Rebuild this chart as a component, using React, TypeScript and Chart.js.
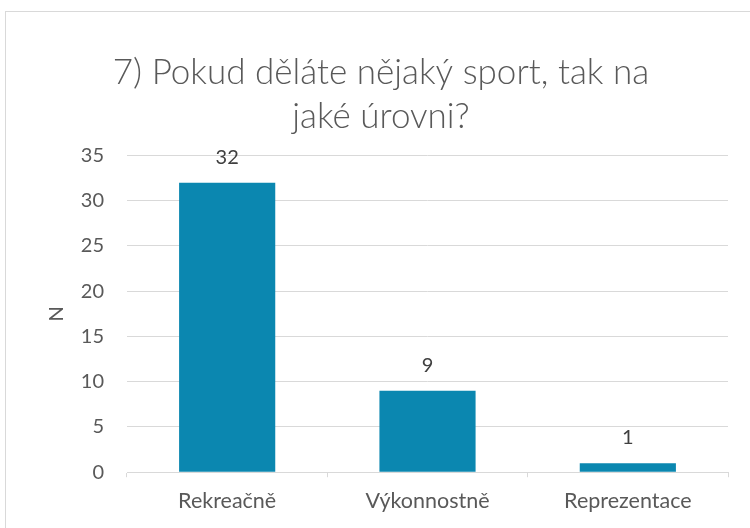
import React, { useEffect, useRef } from "react";
import { Chart, registerables } from "chart.js";

Chart.register(...registerables);

const titleLines = ["7) Pokud děláte nějaký sport, tak na", "jaké úrovni?"];
const categories = ["Rekreačně", "Výkonnostně", "Reprezentace"];
const counts = [32, 9, 1];
const yAxisTitle = "N";
const yMin = 0;
const yMax = 35;
const yStep = 5;

const FONT = "Lato, 'Open Sans', sans-serif";
const TEXT = "#595959";
const GRID = "#d9d9d9";
const BAR = "#0B87B0";

const framePlugin = {
  id: "frame",
  beforeDraw(chart: any) {
    const ctx = chart.ctx;
    ctx.save();
    ctx.fillStyle = "#ffffff";
    ctx.fillRect(0, 0, chart.width, chart.height);
    ctx.strokeStyle = GRID;
    ctx.lineWidth = 1;
    ctx.strokeRect(5.5, 11.5, chart.width + 20, chart.height + 20);
    ctx.restore();
  },
};

const labelPlugin = {
  id: "valueLabels",
  afterDatasetsDraw(chart: any) {
    const ctx = chart.ctx;
    const meta = chart.getDatasetMeta(0);
    const data = chart.data.datasets[0].data;
    ctx.save();
    ctx.font = `20px ${FONT}`;
    ctx.fillStyle = "#404040";
    ctx.textAlign = "center";
    ctx.textBaseline = "alphabetic";
    meta.data.forEach((el: any, i: number) => {
      ctx.fillText(String(data[i]), el.x, el.y - 19);
    });
    ctx.restore();
  },
};

export default function App() {
  const ref = useRef<HTMLCanvasElement | null>(null);

  useEffect(() => {
    document.body.style.margin = "0";
    if (!ref.current) return;
    const chart = new Chart(ref.current, {
      type: "bar",
      data: {
        labels: categories,
        datasets: [
          {
            data: counts,
            backgroundColor: BAR,
            borderWidth: 0,
            barPercentage: 0.48,
            categoryPercentage: 1,
          },
        ],
      },
      options: {
        responsive: false,
        animation: false,
        devicePixelRatio: 1,
        layout: { padding: { left: 34, right: 22, top: 0, bottom: 3 } },
        plugins: {
          legend: { display: false },
          tooltip: { enabled: false },
          title: {
            display: true,
            text: titleLines,
            color: TEXT,
            font: { family: FONT, size: 35, weight: "300", lineHeight: 1.25 },
            padding: { top: 51, bottom: 17 },
          },
        },
        scales: {
          x: {
            grid: {
              display: true,
              drawOnChartArea: false,
              drawTicks: true,
              tickLength: 5,
              color: GRID,
              offset: true,
            },
            border: { display: true, color: GRID },
            ticks: {
              color: TEXT,
              font: { family: FONT, size: 21.5 },
              padding: 11,
            },
          },
          y: {
            min: yMin,
            max: yMax,
            ticks: {
              stepSize: yStep,
              color: TEXT,
              font: { family: FONT, size: 20 },
              padding: 23,
            },
            grid: { color: GRID, drawTicks: false },
            border: { display: false },
            title: {
              display: true,
              text: yAxisTitle,
              color: TEXT,
              font: { family: FONT, size: 20 },
              padding: { top: 11, bottom: 0 },
            },
            afterFit(scale: any) {
              scale.width = 93;
            },
          },
        },
      },
      plugins: [framePlugin, labelPlugin],
    });
    return () => chart.destroy();
  }, []);

  return (
    <div style={{ position: "relative", width: 750, height: 528 }}>
      <canvas ref={ref} width={750} height={528} style={{ display: "block" }} />
    </div>
  );
}
